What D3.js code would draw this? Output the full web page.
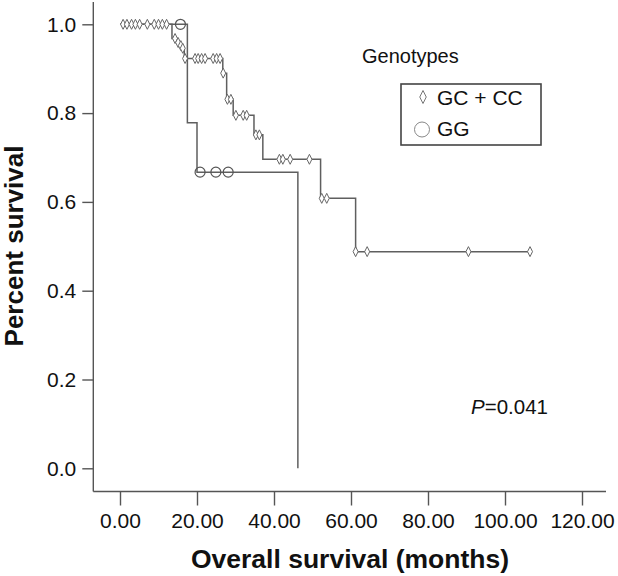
<!DOCTYPE html>
<html>
<head>
<meta charset="utf-8">
<script src="https://cdn.jsdelivr.net/npm/d3@7"></script>
<style>
  html, body { margin: 0; padding: 0; background: #fff; }
  svg { display: block; font-family: "Liberation Sans", Arial, sans-serif; }
</style>
</head>
<body>
<svg id="chart" width="618" height="576"></svg>
<script>
// ---- data ----
const xTicks = [0, 20, 40, 60, 80, 100, 120];
const yTicks = [0, 0.2, 0.4, 0.6, 0.8, 1.0];

// GC + CC : step starts [time, survival]
const gcSteps = [[0, 1.0], [13.5, 0.968], [14.9, 0.959], [15.5, 0.952], [16.1, 0.946], [16.7, 0.923],
  [26.7, 0.890], [27.7, 0.831], [29.4, 0.795], [34.8, 0.751], [37.1, 0.696], [52.1, 0.608], [61.2, 0.488]];
const gcEnd = 106.5;
const gcCensored = [0.8, 1.8, 3.0, 4.0, 5.1, 7.1, 8.9, 10.0, 11.0, 12.1,
  14.3, 15.1, 15.8, 16.3, 16.9, 19.5, 20.3, 21.2, 22.1, 24.2, 25.1, 26.0,
  26.8, 27.9, 28.8, 30.1, 32.0, 32.9, 35.3, 36.2, 41.4, 42.3, 44.2, 49.2,
  52.4, 53.7, 61.2, 64.2, 90.5, 106.5];

// GG
const ggSteps = [[0, 1.0], [17.5, 0.778], [20.0, 0.667], [46.2, 0.0]];
const ggCensored = [15.7, 20.8, 24.9, 28.1];

const legendLabels = ["GC + CC", "GG"];

// ---- layout ----
const svg = d3.select("#chart");
const x = d3.scaleLinear().domain([0, 120]).range([120, 582]);
const y = d3.scaleLinear().domain([0, 1]).range([468.3, 24.3]);
const axisX = 93.3, axisY = 491.5;
const lineColor = "#5f5f5f";
const axisColor = "#555";
const font = '"Liberation Sans", Arial, sans-serif';

function levelAt(steps, t) {
  let s = steps[0][1];
  for (const st of steps) { if (st[0] <= t + 1e-9) s = st[1]; }
  return s;
}

// axes lines
svg.append("line").attr("x1", axisX).attr("x2", axisX).attr("y1", 2).attr("y2", axisY)
  .attr("stroke", axisColor).attr("stroke-width", 1.4);
svg.append("line").attr("x1", axisX).attr("x2", 606).attr("y1", axisY).attr("y2", axisY)
  .attr("stroke", axisColor).attr("stroke-width", 1.4);

// x axis
const gx = svg.append("g").attr("transform", `translate(0,${axisY})`)
  .call(d3.axisBottom(x).tickValues(xTicks).tickFormat(d3.format(".2f")).tickSize(14).tickPadding(8));
gx.select(".domain").remove();
gx.selectAll(".tick line").attr("stroke", axisColor).attr("stroke-width", 1.4);
gx.selectAll(".tick text").attr("fill", "#111").style("font-size", "21px").style("font-family", font);

// y axis
const gy = svg.append("g").attr("transform", `translate(${axisX},0)`)
  .call(d3.axisLeft(y).tickValues(yTicks).tickFormat(d3.format(".1f")).tickSize(11).tickPadding(6));
gy.select(".domain").remove();
gy.selectAll(".tick line").attr("stroke", axisColor).attr("stroke-width", 1.4);
gy.selectAll(".tick text").attr("fill", "#111").style("font-size", "21px").style("font-family", font);

// titles
svg.append("text").attr("x", 350).attr("y", 568).attr("text-anchor", "middle")
  .style("font-size", "26.5px").style("font-weight", "bold").attr("fill", "#111")
  .text("Overall survival (months)");
svg.append("text").attr("transform", "translate(23,246) rotate(-90)").attr("text-anchor", "middle")
  .style("font-size", "26px").style("font-weight", "bold").attr("fill", "#111")
  .text("Percent survival");

// curves
const line = d3.line().x(d => x(d[0])).y(d => y(d[1])).curve(d3.curveStepAfter);
const gcPts = gcSteps.concat([[gcEnd, gcSteps[gcSteps.length - 1][1]]]);
svg.append("path").attr("d", line(ggSteps)).attr("fill", "none").attr("stroke", lineColor).attr("stroke-width", 1.5);
svg.append("path").attr("d", line(gcPts)).attr("fill", "none").attr("stroke", lineColor).attr("stroke-width", 1.5);

// markers
const diamond = (w, h) => `M0,${-h / 2}L${w / 2},0L0,${h / 2}L${-w / 2},0Z`;
svg.append("g").selectAll("path").data(gcCensored).join("path")
  .attr("transform", d => `translate(${x(d)},${y(levelAt(gcSteps, d))})`)
  .attr("d", diamond(5, 10)).attr("fill", "#fff").attr("stroke", "#666").attr("stroke-width", 1);
svg.append("g").selectAll("circle").data(ggCensored).join("circle")
  .attr("cx", d => x(d)).attr("cy", d => y(levelAt(ggSteps, d))).attr("r", 5)
  .attr("fill", "none").attr("stroke", "#555").attr("stroke-width", 1.2);

// legend
svg.append("text").attr("x", 362).attr("y", 63).style("font-size", "20px").attr("fill", "#111").text("Genotypes");
svg.append("rect").attr("x", 401).attr("y", 84).attr("width", 140).attr("height", 61)
  .attr("fill", "none").attr("stroke", "#444").attr("stroke-width", 1.6);
svg.append("path").attr("transform", "translate(423,97)").attr("d", diamond(6.5, 13))
  .attr("fill", "#fff").attr("stroke", "#777").attr("stroke-width", 1);
svg.append("circle").attr("cx", 422).attr("cy", 129.5).attr("r", 7.5)
  .attr("fill", "none").attr("stroke", "#888").attr("stroke-width", 1);
svg.append("text").attr("x", 437).attr("y", 105).style("font-size", "21px").attr("fill", "#111").text(legendLabels[0]);
svg.append("text").attr("x", 437).attr("y", 136).style("font-size", "21px").attr("fill", "#111").text(legendLabels[1]);

// p value
const pt = svg.append("text").attr("x", 471).attr("y", 414).style("font-size", "20.5px").attr("fill", "#111");
pt.append("tspan").style("font-style", "italic").text("P");
pt.append("tspan").text("=0.041");
</script>
</body>
</html>
